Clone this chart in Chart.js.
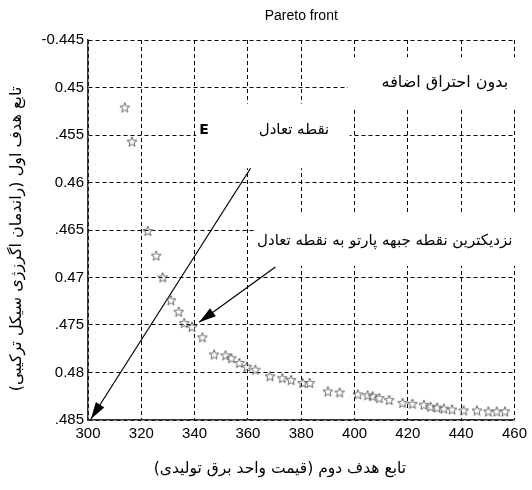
<!DOCTYPE html>
<html><head><meta charset="utf-8">
<script src="https://cdn.jsdelivr.net/npm/chart.js@4"></script>
<style>html,body{margin:0;padding:0;background:#fff}canvas{display:block}</style>
</head><body>
<canvas id="c" width="532" height="490"></canvas>
<script>
// ---- data ----
const costValues = [313.8, 316.5, 322.4, 325.6, 328.0, 331.1, 334.0, 336.1, 339.0, 342.9,
  347.3, 351.6, 353.8, 356.8, 359.6, 362.8, 368.3, 372.9, 376.2, 380.5,
  383.2, 390.0, 394.4, 401.2, 404.9, 406.8, 409.3, 413.0, 418.0, 421.7,
  426.0, 428.5, 431.0, 433.5, 436.6, 440.9, 445.9, 450.2, 453.3, 456.4];
const efficiencyValues = [-0.4521, -0.4557, -0.4651, -0.4677, -0.4700, -0.4724, -0.4736, -0.4748, -0.4752, -0.4763,
  -0.4781, -0.4782, -0.4785, -0.4790, -0.4794, -0.4797, -0.4804, -0.4806, -0.4808, -0.4811,
  -0.4811, -0.4820, -0.4821, -0.4823, -0.4824, -0.4825, -0.4827, -0.4829, -0.4832, -0.4833,
  -0.4834, -0.4836, -0.4837, -0.4838, -0.4839, -0.4840, -0.4840, -0.4841, -0.4841, -0.4841];
const xTickLabels = ['300','320','340','360','380','400','420','440','460'];
const yTickLabels = ['-0.445','0.45','.455','0.46','.465','0.47','.475','0.48','.485']; // top to bottom
const equilibriumArrowX = [361.0, 301.1];
const equilibriumArrowY = [-0.4585, -0.4849];
const nearestArrowX = [370.3, 341.7];
const nearestArrowY = [-0.4689, -0.4747];

const chartTitle = 'Pareto front';
const xAxisTitle = 'تابع هدف دوم (قیمت واحد برق تولیدی)';
const yAxisTitle = 'تابع هدف اول (راندمان اگرزژی سیکل ترکیبی)';
const labelNoCombustion = 'بدون احتراق اضافه';
const labelEquilibrium = 'نقطه تعادل';
const labelE = 'E';
const labelNearest = 'نزدیکترین نقطه جبهه پارتو به نقطه تعادل';

// ---- annotation placement (data coordinates; rtl texts anchored at their right end) ----
const textBoxes = [
  {x1: 397.5, x2: 461, y1: -0.4468, y2: -0.4522},
  {x1: 340.6, x2: 398.2, y1: -0.4517, y2: -0.4585},
  {x1: 362.5, x2: 461, y1: -0.4631, y2: -0.4688}
];
const texts = [
  {t: labelNoCombustion, x: 457.6, y: -0.44953, font: '16px "DejaVu Sans"', rtl: true, align: 'right'},
  {t: labelE, x: 343.5, y: -0.45447, font: 'bold 14px "DejaVu Sans"', rtl: false, align: 'center'},
  {t: labelEquilibrium, x: 390.5, y: -0.45447, font: '15px "DejaVu Sans"', rtl: true, align: 'right'},
  {t: labelNearest, x: 459.2, y: -0.46616, font: '15px "DejaVu Sans"', rtl: true, align: 'right'}
];

const tickFont = {family: '"Liberation Sans", Arial, sans-serif', size: 15};

function makeStar() {
  const s = document.createElement('canvas');
  s.width = 12; s.height = 12;
  const g = s.getContext('2d');
  g.strokeStyle = '#666'; g.lineWidth = 1;
  g.beginPath();
  for (let i = 0; i < 10; i++) {
    const r = i % 2 ? 2.2 : 5.2;
    const a = -Math.PI / 2 + i * Math.PI / 5;
    const px = 6 + r * Math.cos(a), py = 6.4 + r * Math.sin(a);
    if (i) g.lineTo(px, py); else g.moveTo(px, py);
  }
  g.closePath(); g.stroke();
  return s;
}

function arrowHead(ctx, from, to, len, half) {
  const ang = Math.atan2(to.y - from.y, to.x - from.x);
  ctx.beginPath();
  ctx.moveTo(to.x, to.y);
  ctx.lineTo(to.x - len * Math.cos(ang) + half * Math.sin(ang), to.y - len * Math.sin(ang) - half * Math.cos(ang));
  ctx.lineTo(to.x - len * Math.cos(ang) - half * Math.sin(ang), to.y - len * Math.sin(ang) + half * Math.cos(ang));
  ctx.closePath();
  ctx.fill();
}

const annot = {
  id: 'annot',
  beforeDatasetsDraw(chart) {
    const {ctx, scales: {x, y}} = chart;
    ctx.save();
    ctx.fillStyle = '#fff';
    for (const b of textBoxes) {
      const px1 = x.getPixelForValue(b.x1), px2 = x.getPixelForValue(b.x2);
      const py1 = y.getPixelForValue(b.y1), py2 = y.getPixelForValue(b.y2);
      ctx.fillRect(px1, py1, px2 - px1, py2 - py1);
    }
    ctx.restore();
  },
  afterDatasetsDraw(chart) {
    const {ctx, scales: {x, y}, chartArea} = chart;
    ctx.save();
    ctx.fillStyle = '#000';
    [1, 2].forEach(di => {
      const pts = chart.getDatasetMeta(di).data;
      arrowHead(ctx, pts[0], pts[1], 17, 5);
    });
    ctx.textBaseline = 'middle';
    for (const t of texts) {
      ctx.font = t.font;
      ctx.direction = t.rtl ? 'rtl' : 'ltr';
      ctx.textAlign = t.align;
      ctx.fillText(t.t, x.getPixelForValue(t.x), y.getPixelForValue(t.y));
    }
    // chart title
    ctx.direction = 'ltr';
    ctx.textAlign = 'center';
    ctx.font = '14px "Liberation Sans", Arial, sans-serif';
    ctx.fillText(chartTitle, (chartArea.left + chartArea.right) / 2, 16);
    // axis titles
    ctx.direction = 'rtl';
    ctx.textAlign = 'right';
    ctx.font = '15.5px "DejaVu Sans"';
    ctx.fillText(xAxisTitle, 406, 469);
    ctx.textAlign = 'center';
    ctx.font = '16px "DejaVu Sans"';
    ctx.translate(17, 239);
    ctx.rotate(-Math.PI / 2);
    ctx.fillText(yAxisTitle, 0, 0);
    ctx.restore();
  }
};

new Chart(document.getElementById('c'), {
  type: 'scatter',
  data: {
    datasets: [
      {data: costValues.map((v, i) => ({x: v, y: efficiencyValues[i]})), pointStyle: makeStar(), pointRadius: 5, showLine: false},
      {data: equilibriumArrowX.map((v, i) => ({x: v, y: equilibriumArrowY[i]})), showLine: true, borderColor: '#000', borderWidth: 1.2, pointRadius: 0},
      {data: nearestArrowX.map((v, i) => ({x: v, y: nearestArrowY[i]})), showLine: true, borderColor: '#000', borderWidth: 1.2, pointRadius: 0}
    ]
  },
  options: {
    responsive: false, animation: false, devicePixelRatio: 1,
    layout: {padding: {top: 40, right: 14, left: 0, bottom: 0}},
    plugins: {legend: {display: false}, tooltip: {enabled: false}, title: {display: false}},
    scales: {
      x: {
        type: 'linear', min: 300, max: 460,
        ticks: {stepSize: 20, autoSkip: false, maxRotation: 0, color: '#000', font: tickFont, padding: 5,
          callback: (v) => xTickLabels[Math.round((v - 300) / 20)]},
        grid: {color: '#000', lineWidth: 1, drawTicks: false},
        border: {display: true, color: '#333', width: 1.5, dash: [4, 3]},
        afterFit(s) { s.height = 70; }
      },
      y: {
        type: 'linear', min: -0.485, max: -0.445,
        ticks: {stepSize: 0.005, autoSkip: false, color: '#000', font: tickFont, padding: 4,
          callback: (v) => yTickLabels[Math.round((-0.445 - v) / 0.005)]},
        grid: {color: '#000', lineWidth: 1, drawTicks: false},
        border: {display: true, color: '#333', width: 1.5, dash: [4, 3]},
        afterFit(s) { s.width = 88; }
      }
    }
  },
  plugins: [annot]
});
</script>
</body></html>
